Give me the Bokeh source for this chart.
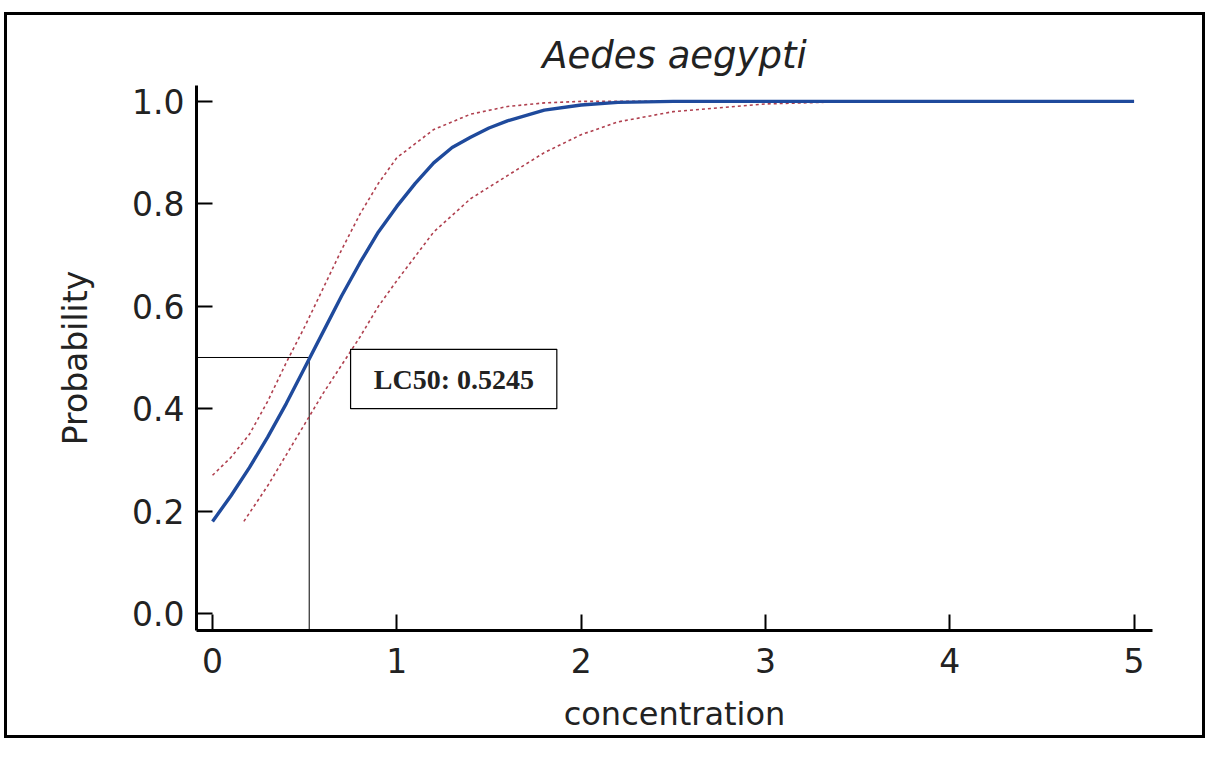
from bokeh.plotting import figure
from bokeh.models import Range1d, Label, BoxAnnotation
from bokeh.embed import file_html
from bokeh.resources import INLINE

# ---- data ----
blue_x = [0, 0.1, 0.2, 0.3, 0.4, 0.5, 0.6, 0.7, 0.8, 0.9, 1.0, 1.1, 1.2, 1.3, 1.4, 1.5, 1.6, 1.8, 2.0, 2.2, 2.5, 3.0, 3.5, 4.0, 4.5, 5.0]
blue_y = [0.18, 0.23, 0.285, 0.345, 0.41, 0.48, 0.55, 0.62, 0.685, 0.745, 0.795, 0.84, 0.88, 0.91, 0.93, 0.948, 0.962, 0.983, 0.993, 0.998, 1.0, 1.0, 1.0, 1.0, 1.0, 1.0]

upper_x = [0, 0.1, 0.2, 0.3, 0.4, 0.5, 0.6, 0.7, 0.8, 0.9, 1.0, 1.2, 1.4, 1.6, 1.8, 2.0, 2.5, 3.0, 4.0, 5.0]
upper_y = [0.27, 0.305, 0.35, 0.415, 0.49, 0.56, 0.635, 0.71, 0.78, 0.84, 0.89, 0.945, 0.975, 0.99, 0.997, 1.0, 1.0, 1.0, 1.0, 1.0]

lower_x = [0.17, 0.3, 0.4, 0.5, 0.6, 0.7, 0.8, 0.9, 1.0, 1.2, 1.4, 1.6, 1.8, 2.0, 2.2, 2.5, 3.0, 3.5, 4.0, 5.0]
lower_y = [0.18, 0.25, 0.31, 0.37, 0.43, 0.485, 0.54, 0.60, 0.65, 0.745, 0.81, 0.855, 0.9, 0.935, 0.96, 0.98, 0.995, 1.0, 1.0, 1.0]

lc50 = 0.5245
lc50_prob = 0.5
x_ticks = [0, 1, 2, 3, 4, 5]
y_ticks = [0.0, 0.2, 0.4, 0.6, 0.8, 1.0]
y_tick_labels = ["0.0", "0.2", "0.4", "0.6", "0.8", "1.0"]

XMIN, XMAX = -0.087, 5.10
YMIN, YMAX = -0.033, 1.031

FONT = "DejaVu Sans"

p = figure(width=1201, height=726, output_backend="svg", toolbar_location=None,
           x_range=Range1d(XMIN, XMAX), y_range=Range1d(YMIN, YMAX),
           min_border_left=189, min_border_right=56, min_border_top=70, min_border_bottom=111,
           title="Aedes aegypti")
p.styles = {"border": "3px solid black", "margin-left": "4px", "margin-top": "12px"}
p.outline_line_color = None
p.grid.visible = False
p.background_fill_color = "white"
p.border_fill_color = "white"

p.title.text_font = FONT
p.title.text_font_size = "37px"
p.title.text_font_style = "italic"
p.title.text_color = "#222222"
p.title.align = "center"
p.title.padding = 4

for ax in (p.xaxis[0], p.yaxis[0]):
    ax.axis_line_width = 3
    ax.axis_line_color = "black"
    ax.major_tick_in = 16
    ax.major_tick_out = 0
    ax.minor_tick_in = 8
    ax.minor_tick_out = 0
    ax.major_tick_line_width = 2
    ax.minor_tick_line_width = 1.5
    ax.major_tick_line_color = "black"
    ax.minor_tick_line_color = "black"
    ax.major_label_text_font = FONT
    ax.major_label_text_font_size = "33px"
    ax.major_label_text_color = "#222222"
    ax.axis_label_text_font = FONT
    ax.axis_label_text_font_style = "normal"
    ax.axis_label_text_color = "#222222"

p.xaxis.major_label_standoff = 17
p.yaxis.major_label_standoff = 12
p.xaxis.ticker = x_ticks
p.xaxis.ticker.num_minor_ticks = 2
p.yaxis.ticker = y_ticks
p.yaxis.ticker.num_minor_ticks = 2
p.yaxis.major_label_overrides = {t: l for t, l in zip(y_ticks, y_tick_labels)}
p.xaxis.axis_label = "concentration"
p.yaxis.axis_label = "Probability"
p.xaxis.axis_label_text_font_size = "32px"
p.yaxis.axis_label_text_font_size = "33px"
p.xaxis.axis_label_standoff = 19
p.yaxis.axis_label_standoff = 34

# LC50 guide lines
p.line([XMIN, lc50, lc50], [lc50_prob, lc50_prob, YMIN], line_color="black", line_width=1)

# confidence bounds
p.line(upper_x, upper_y, line_color="#b0404f", line_width=1.6, line_dash="3 3")
p.line(lower_x, lower_y, line_color="#b0404f", line_width=1.6, line_dash="3 3")

# fitted curve
p.line(blue_x, blue_y, line_color="#1f4a9c", line_width=3.4)

# LC50 label box
box = BoxAnnotation(left=0.749, right=1.868, bottom=0.400, top=0.516,
                    fill_color="white", fill_alpha=1.0,
                    line_color="black", line_alpha=1.0, line_width=1.2)
p.add_layout(box)
p.add_layout(Label(x=1.31, y=0.458, text=f"LC50: {lc50}", text_font="Liberation Serif",
                   text_font_style="bold", text_font_size="28px", text_color="#222222",
                   text_align="center", text_baseline="middle"))

open("out.html", "w").write(file_html(p, INLINE))
